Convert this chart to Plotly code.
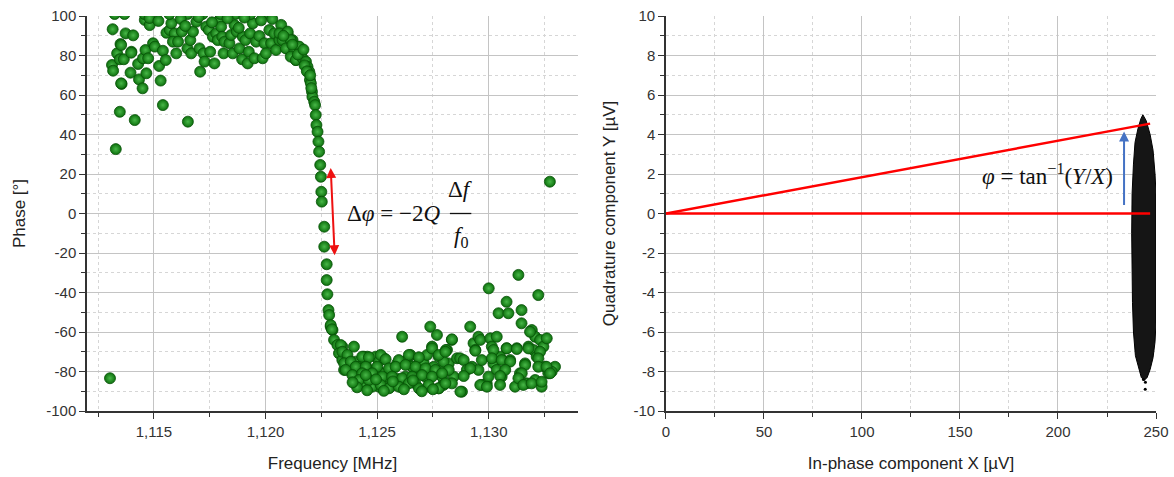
import plotly.graph_objects as go


# Fase frente a frecuencia (MHz, grados).
FREQ = [
    # zona alta (antes de la resonancia)
    1.11312, 1.11317, 1.11315, 1.11329, 1.11347, 1.11355, 1.11335, 1.11350, 1.11347, 1.11365,
    1.11373, 1.11395, 1.11399, 1.11407, 1.11414, 1.11429, 1.11433, 1.11449, 1.11451, 1.11462,
    1.11466, 1.11474, 1.11459, 1.11481, 1.11496, 1.11504, 1.11523, 1.11530, 1.11540, 1.11540,
    1.11553, 1.11556, 1.11571, 1.11578, 1.11593, 1.11585, 1.11600, 1.11608, 1.11625, 1.11652,
    1.11650, 1.11663, 1.11667, 1.11675, 1.11690, 1.11704, 1.11707, 1.11722, 1.11727, 1.11734,
    1.11746, 1.11752, 1.11771, 1.11764, 1.11779, 1.11786, 1.11794, 1.11801, 1.11806, 1.11812,
    1.11816, 1.11838, 1.11846, 1.11853, 1.11861, 1.11871, 1.11883, 1.11895, 1.11898, 1.11910,
    1.11920, 1.11925, 1.11931, 1.11943, 1.11950, 1.11958, 1.11972, 1.11987, 1.11995, 1.12002,
    1.12017, 1.12025, 1.12039, 1.12047, 1.12062, 1.12084, 1.12092, 1.12099, 1.12106, 1.12121,
    1.12129, 1.12136, 1.12140, 1.11353, 1.11398, 1.11353,
    # puntos recortados arriba
    1.11324, 1.11368, 1.11458, 1.11569, 1.11650, 1.11718, 1.11798, 1.11865, 1.11932, 1.12016,
    1.11480, 1.11620, 1.11700, 1.11830, 1.11905, 1.11980, 1.12030, 1.12070, 1.11760, 1.11880,
    1.11640, 1.11520,
    # transición
    1.12062, 1.12099, 1.12076, 1.12113, 1.12091, 1.12129, 1.12151, 1.12113, 1.12136, 1.12158,
    1.12166, 1.12181, 1.12188, 1.12196, 1.12199, 1.12203, 1.12208, 1.12210, 1.12218, 1.12222,
    1.12225, 1.12228, 1.12233, 1.12237, 1.12240, 1.12245, 1.12248, 1.12250, 1.12252, 1.12263,
    1.12263, 1.12274, 1.12274, 1.12277, 1.12282, 1.12285, 1.12292, 1.12300, 1.12307, 1.12322,
    1.12344, 1.12080, 1.12120, 1.12145, 1.12170, 1.12175, 1.12185, 1.12200, 1.12205,
    1.12292, 1.12297,
    # atípicos
    1.13274, 1.11303,
    # zona baja
    1.12337, 1.12396, 1.12329, 1.12359, 1.12344, 1.12366, 1.12382, 1.12352, 1.12404, 1.12419,
    1.12441, 1.12456, 1.12396, 1.12426, 1.12449, 1.12463, 1.12478, 1.12434, 1.12493, 1.12508,
    1.12530, 1.12500, 1.12523, 1.12486, 1.12508, 1.12538, 1.12560, 1.12545, 1.12567, 1.12590,
    1.12583, 1.12605, 1.12612, 1.12627, 1.12634, 1.12649, 1.12657, 1.12671, 1.12687, 1.12694,
    1.12716, 1.12709, 1.12724, 1.12738, 1.12746, 1.12754, 1.12731, 1.12768, 1.12776, 1.12791,
    1.12798, 1.12813, 1.12821, 1.12835, 1.12843, 1.12858, 1.12872, 1.12880, 1.12888, 1.12902,
    1.12917, 1.12925, 1.12932, 1.12940, 1.12954, 1.12962, 1.12954, 1.12969, 1.12969, 1.12991,
    1.13000, 1.13007, 1.13014, 1.13021, 1.13036, 1.13044, 1.13051, 1.13058, 1.13080, 1.13088,
    1.13080, 1.13096, 1.13126, 1.13133, 1.13118, 1.13140, 1.13147, 1.13147, 1.13163, 1.13170,
    1.13178, 1.13193, 1.13200, 1.13208, 1.13215, 1.13222, 1.13230, 1.13245, 1.13237, 1.13252,
    1.13260, 1.13267, 1.13297, 1.13282,
    1.12835, 1.13185, 1.13081, 1.13126, 1.13178, 1.13230, 1.13021, 1.12808, 1.12940, 1.13222,
    1.12798, 1.13014, 1.13058, 1.13096, 1.13163, 1.13222, 1.13259, 1.12821, 1.12917, 1.13036,
    1.13074, 1.13148, 1.13275, 1.12791, 1.12888, 1.12999, 1.13051, 1.13133, 1.13208, 1.12798,
    1.12835, 1.12962, 1.12992, 1.13051, 1.13155, 1.13192, 1.13237, 1.12873, 1.12776,
    1.12344, 1.12367, 1.12433, 1.12463, 1.12516, 1.12538, 1.12597, 1.12642, 1.12687, 1.12746,
    1.12776, 1.12806, 1.12352, 1.12382, 1.12404, 1.12449, 1.12500, 1.12553, 1.12583, 1.12627,
    1.12672, 1.12717, 1.12761, 1.12359, 1.12389, 1.12433, 1.12478, 1.12523, 1.12567, 1.12612,
    1.12657, 1.12701, 1.12746, 1.12791, 1.12419, 1.12478, 1.12516, 1.12553, 1.12597, 1.12642,
    1.12687, 1.12731, 1.12776, 1.12806, 1.12463, 1.12449,
    1.12410, 1.12390, 1.12455, 1.12530, 1.12620, 1.12700, 1.12750, 1.12660, 1.12570, 1.12495,
]

PHASE = [
    75.2, 72.3, 93.3, 32.6, 51.5, 65.6, 81.1, 85.8, 78.1, 78.1,
    91.2, 71.3, 81.9, 90.2, 47.3, 75.7, 67.9, 63.4, 78.6, 82.8,
    71.0, 78.6, 98.0, 95.4, 86.2, 84.5, 74.7, 67.3, 54.9, 82.4,
    77.7, 91.5, 92.9, 96.3, 91.2, 87.0, 81.1, 87.0, 92.1, 46.5,
    83.6, 87.8, 81.1, 92.1, 97.1, 83.6, 71.8, 81.1, 76.9, 94.6,
    92.9, 81.9, 76.0, 89.5, 91.2, 87.8, 98.0, 94.6, 89.5, 81.1,
    87.0, 86.2, 90.4, 81.1, 95.4, 92.1, 83.6, 78.1, 89.5, 87.8,
    76.0, 81.9, 91.2, 96.3, 78.6, 87.0, 89.9, 78.6, 86.2, 81.1,
    92.9, 86.2, 91.2, 82.8, 87.8, 89.5, 86.2, 91.2, 82.8, 87.8,
    80.3, 77.7, 84.5, 85.3, 81.4, 65.9,
    101, 101, 101, 101, 101, 101, 101, 101, 101, 101,
    99.0, 98.5, 99.5, 98.8, 99.2, 97.8, 98.5, 95.5, 96.8, 94.0,
    95.0, 97.5,
    91.2, 92.1, 87.8, 87.8, 83.6, 82.8, 84.5, 79.4, 77.7, 81.1,
    78.6, 76.9, 74.3, 71.8, 67.6, 65.9, 61.7, 59.1, 56.6, 54.9,
    49.9, 44.8, 41.4, 36.4, 31.3, 24.6, 18.6, 11.0, 6.0, -6.7,
    -16.8, -25.7, -33.7, -40.9, -48.9, -51.4, -57.3, -59.0, -64.0, -66.6,
    -67.4, 90.0, 85.5, 80.5, 83.0, 75.0, 72.0, 70.0, 63.5,
    -56.5, -58.6,
    16.1, -83.4,
    -66.6, -67.4, -70.8, -71.6, -74.2, -75.0, -77.6, -79.2, -75.0, -77.6,
    -72.5, -72.5, -80.9, -83.4, -76.7, -79.2, -82.6, -86.0, -72.5, -75.0,
    -73.3, -79.2, -80.9, -86.8, -87.7, -86.0, -87.7, -82.6, -78.4, -75.9,
    -83.4, -87.7, -62.4, -82.6, -74.2, -71.6, -77.6, -86.0, -73.3, -79.2,
    -82.6, -75.9, -71.6, -57.3, -67.4, -77.6, -87.7, -61.5, -72.5, -79.2,
    -86.0, -69.1, -75.9, -64.0, -82.6, -73.3, -73.3, -90.2, -74.2, -79.2,
    -57.3, -77.6, -65.7, -69.1, -62.4, -64.0, -79.2, -74.2, -86.8, -86.0,
    -37.9, -63.2, -67.4, -75.9, -62.4, -50.5, -72.5, -82.6, -44.7, -50.5,
    -68.2, -74.2, -68.2, -31.1, -87.7, -80.9, -48.9, -55.6, -75.9, -86.0,
    -67.4, -59.0, -69.1, -62.4, -72.5, -41.3, -64.0, -67.4, -87.7, -77.6,
    -63.2, -80.9, -77.6, -80.1,
    -63.7, -59.9, -68.3, -68.6, -68.3, -70.0, -69.1, -69.1, -69.5, -73.3,
    -75.0, -73.3, -74.2, -75.0, -76.7, -77.6, -77.6, -79.2, -78.4, -79.2,
    -79.2, -80.9, -80.9, -82.6, -82.3, -82.6, -82.3, -83.4, -84.3, -86.8,
    -86.0, -86.8, -87.7, -86.8, -86.8, -86.0, -85.2, -90.2, -88.5,
    -70.0, -71.6, -72.5, -72.8, -71.6, -73.8, -74.2, -71.6, -72.8, -68.3,
    -71.6, -70.0, -75.8, -75.0, -77.6, -77.6, -77.6, -78.4, -77.6, -76.7,
    -77.6, -78.4, -79.2, -79.2, -81.8, -80.9, -80.9, -82.6, -82.6, -83.4,
    -82.6, -81.8, -82.6, -80.9, -84.3, -87.7, -86.8, -88.5, -87.7, -86.0,
    -88.5, -86.8, -88.5, -86.0, -84.3, -81.8,
    -88.0, -85.5, -89.5, -89.8, -89.0, -90.0, -89.0, -84.5, -85.0, -84.0,
]

# Nube de ruido X-Y (µV): contorno de la nube y puntos sueltos.
NUBE_X = [243.3, 245.0, 247.0, 248.5, 249.5, 250.0, 250.0, 249.5, 248.5, 247.0, 245.5,
          244.0, 242.5, 241.0, 239.5, 238.5, 238.0, 237.6, 237.8, 238.5, 239.3, 240.8,
          242.3, 243.3]
NUBE_Y = [5.0, 4.7, 4.0, 3.2, 2.0, 1.0, -5.5, -6.5, -7.3, -7.9, -8.3,
          -8.45, -8.3, -7.8, -7.2, -6.0, -4.5, -1.0, 1.0, 2.5, 3.6, 4.3,
          4.8, 5.0]
SUELTOS_X = [244.6, 244.5, 243.6]
SUELTOS_Y = [-8.55, -8.9, -8.4]

# Vector de señal y referencia (líneas rojas).
VECTOR_X = [0, 247]
VECTOR_Y = [0, 4.55]
REF_X = [0, 247]
REF_Y = [0, 0]

# Etiquetas de los ejes.
FREQ_TICKS = [1.115, 1.120, 1.125, 1.130]
FREQ_LABELS = ["1,115", "1,120", "1,125", "1,130"]
PHASE_TICKS = [-100, -80, -60, -40, -20, 0, 20, 40, 60, 80, 100]
PHASE_LABELS = ["-100", "-80", "-60", "-40", "-20", "0", "20", "40", "60", "80", "100"]
X_TICKS = [0, 50, 100, 150, 200, 250]
X_LABELS = ["0", "50", "100", "150", "200", "250"]
Y_TICKS = [-10, -8, -6, -4, -2, 0, 2, 4, 6, 8, 10]
Y_LABELS = ["-10", "-8", "-6", "-4", "-2", "0", "2", "4", "6", "8", "10"]


def eje(**kw):
    base = dict(
        showline=True,
        linecolor="#333333",
        linewidth=1.5,
        ticks="outside",
        ticklen=6,
        tickwidth=1.2,
        tickcolor="#333333",
        showgrid=True,
        gridcolor="#c4c4c4",
        gridwidth=1,
        zeroline=False,
        automargin=False,
        ticklabeloverflow="allow",
        tickfont=dict(size=15, color="#333333"),
        title_font=dict(size=17, color="#222222"),
    )
    base.update(kw)
    return base


def menor(paso):
    return dict(
        dtick=paso,
        ticks="outside",
        ticklen=4,
        tickcolor="#333333",
        showgrid=True,
        gridcolor="#d6d6d6",
        griddash="dot",
    )


fig = go.Figure()

fig.add_trace(
    go.Scatter(
        x=FREQ,
        y=PHASE,
        mode="markers",
        marker=dict(
            size=11,
            color="#0d700d",
            gradient=dict(type="radial", color="#48b848"),
            line=dict(color="#075207", width=0.8),
        ),
        xaxis="x",
        yaxis="y",
        showlegend=False,
    )
)

fig.add_trace(
    go.Scatter(
        x=NUBE_X,
        y=NUBE_Y,
        mode="lines",
        fill="toself",
        fillcolor="#151515",
        line=dict(color="#000000", width=1),
        xaxis="x2",
        yaxis="y2",
        showlegend=False,
    )
)
fig.add_trace(
    go.Scatter(
        x=SUELTOS_X,
        y=SUELTOS_Y,
        mode="markers",
        marker=dict(size=3, color="#000000"),
        xaxis="x2",
        yaxis="y2",
        showlegend=False,
    )
)

for xs, ys in [(VECTOR_X, VECTOR_Y), (REF_X, REF_Y)]:
    fig.add_trace(
        go.Scatter(
            x=xs,
            y=ys,
            mode="lines",
            line=dict(color="#ff0000", width=2.5),
            xaxis="x2",
            yaxis="y2",
            showlegend=False,
        )
    )

fig.update_layout(
    width=1174,
    height=477,
    margin=dict(l=87, r=18, t=16, b=66),
    paper_bgcolor="white",
    plot_bgcolor="white",
    font=dict(family="Liberation Sans, Arial, sans-serif", color="#222222"),
    xaxis=eje(
        domain=[0, 0.4593],
        range=[1.112, 1.134],
        tickvals=FREQ_TICKS,
        ticktext=FREQ_LABELS,
        minor=menor(0.0025),
        title_text="Frequency [MHz]",
        title_standoff=18,
        anchor="y",
    ),
    yaxis=eje(
        range=[-100, 100],
        tickvals=PHASE_TICKS,
        ticktext=PHASE_LABELS,
        minor=menor(10),
        title_text="Phase [°]",
        title_standoff=16,
        anchor="x",
    ),
    xaxis2=eje(
        domain=[0.5416, 1],
        range=[0, 250],
        tickvals=X_TICKS,
        ticktext=X_LABELS,
        minor=menor(25),
        title_text="In-phase component X [µV]",
        title_standoff=18,
        anchor="y2",
    ),
    yaxis2=eje(
        range=[-10, 10],
        tickvals=Y_TICKS,
        ticktext=Y_LABELS,
        minor=menor(1),
        title_text="Quadrature component Y [µV]",
        title_standoff=14,
        anchor="x2",
    ),
)

serif = dict(family="Liberation Serif, DejaVu Serif, serif", size=23, color="#111111")

# Fórmula del desfase en la resonancia.
fig.add_annotation(
    x=1.12356, y=0, xref="x", yref="y", xanchor="left", yanchor="middle",
    text="Δ<i>φ</i> = −2<i>Q</i>", showarrow=False, font=serif,
)
fig.add_annotation(
    x=1.12874, y=12, xref="x", yref="y", xanchor="center", yanchor="middle",
    text="Δ<i>f</i>", showarrow=False, font=serif,
)
fig.add_annotation(
    x=1.12874, y=-12, xref="x", yref="y", xanchor="center", yanchor="middle",
    text="<i>f</i><sub>0</sub>", showarrow=False, font=serif,
)
fig.add_shape(
    type="line", xref="x", yref="y", x0=1.12826, x1=1.12922, y0=0, y1=0,
    line=dict(color="#111111", width=1.3),
)

# Flecha doble roja.
fig.add_annotation(
    x=1.12292, y=23, ax=1.12310, ay=-21.9,
    xref="x", yref="y", axref="x", ayref="y",
    text="", showarrow=True, arrowhead=2, arrowside="end+start",
    arrowsize=1, arrowwidth=2, arrowcolor="#ee1111",
)

# Fórmula del ángulo y flecha azul.
fig.add_annotation(
    x=194.4, y=1.95, xref="x2", yref="y2", xanchor="center", yanchor="middle",
    text="<i>φ</i> = tan<sup>−1</sup>(<i>Y</i>/<i>X</i>)", showarrow=False, font=serif,
)
fig.add_annotation(
    x=233.7, y=4.15, ax=233.7, ay=0.35,
    xref="x2", yref="y2", axref="x2", ayref="y2",
    text="", showarrow=True, arrowhead=2, arrowsize=1,
    arrowwidth=2, arrowcolor="#4472c4",
)

# Quitamos el margen por defecto de la página para que la figura ocupe toda la ventana.
fig.write_html(
    "out.html",
    config={"displayModeBar": False},
    post_script="document.body.style.margin='0px';",
)
